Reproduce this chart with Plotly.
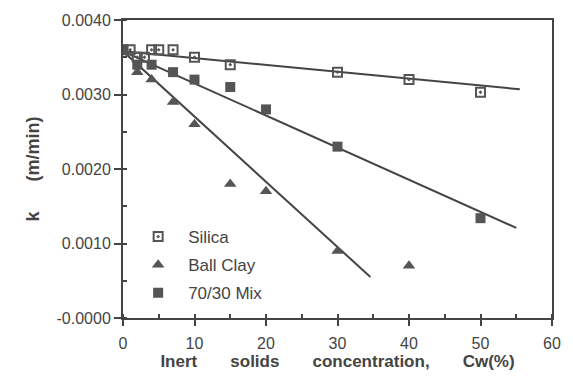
import plotly.graph_objects as go

# Data
silica_x = [0, 1, 2, 3, 4, 5, 7, 10, 15, 30, 40, 50]
silica_y = [0.0036, 0.0036, 0.0035, 0.0035, 0.0036, 0.0036, 0.0036, 0.0035, 0.0034, 0.0033, 0.0032, 0.00303]

clay_x = [0, 2, 4, 7, 10, 15, 20, 30, 40]
clay_y = [0.0036, 0.0033, 0.0032, 0.0029, 0.0026, 0.0018, 0.0017, 0.0009, 0.0007]

mix_x = [0, 2, 4, 7, 10, 15, 20, 30, 50]
mix_y = [0.0036, 0.0034, 0.0034, 0.0033, 0.0032, 0.0031, 0.0028, 0.0023, 0.00134]

# Fitted lines (end points)
silica_fit_x = [0, 55.5]
silica_fit_y = [0.00358, 0.00307]
clay_fit_x = [0, 34.6]
clay_fit_y = [0.00358, 0.00055]
mix_fit_x = [0, 55]
mix_fit_y = [0.00358, 0.00121]

y_ticks = [0.0, 0.001, 0.002, 0.003, 0.004]
y_tick_text = ["-0.0000", "0.0010", "0.0020", "0.0030", "0.0040"]
x_ticks = [0, 10, 20, 30, 40, 50, 60]

INK = "#444444"
MARK = "#555555"

fig = go.Figure()
for fx, fy in [(silica_fit_x, silica_fit_y), (clay_fit_x, clay_fit_y), (mix_fit_x, mix_fit_y)]:
    fig.add_trace(go.Scatter(x=fx, y=fy, mode="lines", line=dict(color=INK, width=2),
                             showlegend=False, hoverinfo="skip"))

fig.add_trace(go.Scatter(x=silica_x, y=silica_y, mode="markers", name="Silica", legendgroup="a",
                         marker=dict(symbol="square-open-dot", size=9, color=MARK, line=dict(width=2, color=MARK))))
fig.add_trace(go.Scatter(x=clay_x, y=clay_y, mode="markers", name="Ball Clay", legendgroup="b",
                         marker=dict(symbol="triangle-up", size=11, color=MARK)))
fig.add_trace(go.Scatter(x=mix_x, y=mix_y, mode="markers", name="70/30 Mix", legendgroup="c",
                         marker=dict(symbol="square", size=10, color=MARK)))

GAP = "       "
fig.update_layout(
    width=573, height=381,
    margin=dict(l=123, r=21, t=14, b=63),
    paper_bgcolor="white", plot_bgcolor="white",
    font=dict(family="Liberation Sans, Arial, sans-serif", color=INK),
    legend=dict(x=0.012, y=0.332, xanchor="left", yanchor="top", bgcolor="rgba(0,0,0,0)",
                font=dict(size=17, color=INK), itemwidth=50, traceorder="grouped", tracegroupgap=3),
    xaxis=dict(range=[0, 60], tickvals=x_ticks, showgrid=False, zeroline=False,
               showline=True, mirror=True, linecolor=INK, linewidth=2,
               ticks="outside", ticklen=6, tickwidth=2, tickcolor=INK,
               tickfont=dict(size=16, color=INK), ticklabelstandoff=4,
               minor=dict(dtick=5, ticks="inside", ticklen=4, tickwidth=2, tickcolor=INK),
               title=dict(text="Inert" + GAP + "solids" + GAP + "concentration," + GAP + "Cw(%)",
                          font=dict(size=17, color=INK, weight="bold"), standoff=4)),
    yaxis=dict(range=[0, 0.004], tickvals=y_ticks, ticktext=y_tick_text, showgrid=False, zeroline=False,
               showline=True, mirror=True, linecolor=INK, linewidth=2,
               ticks="outside", ticklen=7, tickwidth=2, tickcolor=INK,
               tickfont=dict(size=16, color=INK),
               minor=dict(dtick=0.0005, ticks="inside", ticklen=4, tickwidth=2, tickcolor=INK),
               title=dict(text="k      (m/min)", font=dict(size=18, color=INK, weight="bold"), standoff=12)),
)

fig.write_html("out.html")
